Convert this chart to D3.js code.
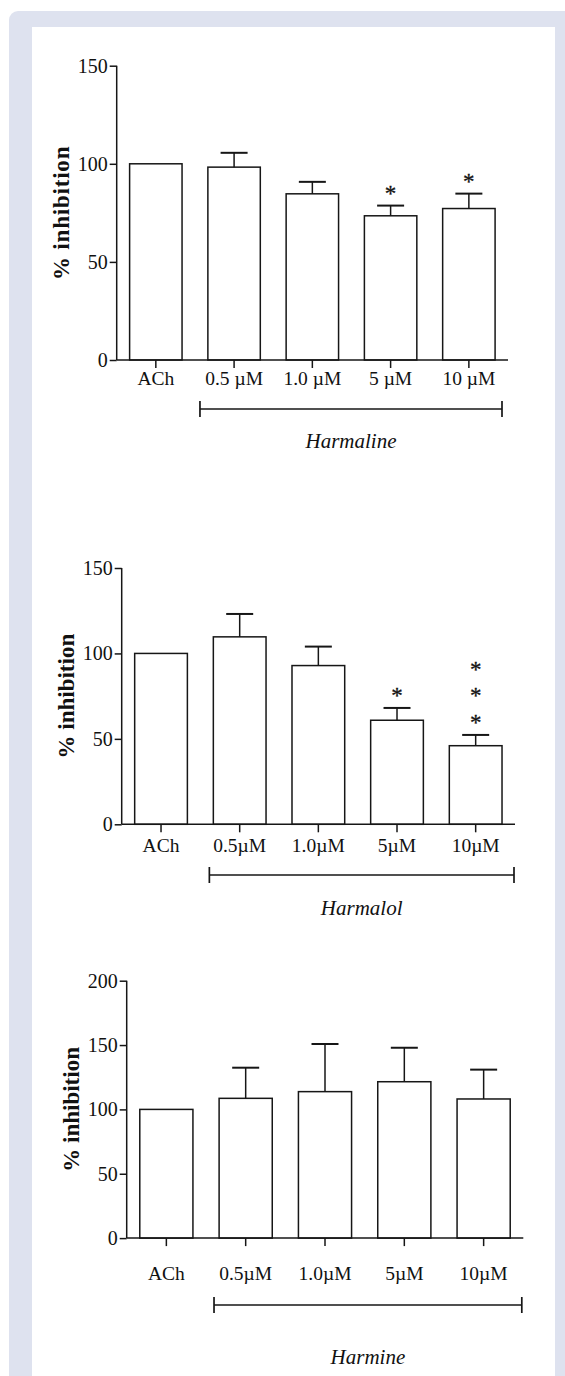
<!DOCTYPE html>
<html>
<head>
<meta charset="utf-8">
<script src="https://cdn.jsdelivr.net/npm/d3@7"></script>
<style>
  body { margin: 0; background: #fff; }
  svg text { font-family: "Liberation Serif", "Times New Roman", serif; fill: #111; }
</style>
</head>
<body>
<svg id="fig" width="565" height="1376"></svg>
<script>
// values
var labelsSpaced = ["ACh", "0.5 µM", "1.0 µM", "5 µM", "10 µM"];
var labelsTight = ["ACh", "0.5µM", "1.0µM", "5µM", "10µM"];

var harmalineMean = [100, 98.3, 84.7, 73.5, 77.2];
var harmalineErr = [0, 7.3, 6.1, 5.2, 7.6];
var harmalineStars = [0, 0, 0, 1, 1];

var harmalolMean = [100, 109.7, 92.9, 60.9, 46.0];
var harmalolErr = [0, 13.4, 11.1, 7.2, 6.3];
var harmalolStars = [0, 0, 0, 1, 3];

var harmineMean = [100, 108.6, 113.8, 121.5, 108.1];
var harmineErr = [0, 23.8, 37.0, 26.4, 22.8];
var harmineStars = [0, 0, 0, 0, 0];

var ticks150 = [0, 50, 100, 150];
var ticks200 = [0, 50, 100, 150, 200];

var yTitle = "% inhibition";

var svg = d3.select("#fig");

// page background: grey-blue frame with white sheet
svg.append("rect").attr("x", 9).attr("y", 11).attr("width", 600).attr("height", 1400)
  .attr("rx", 9).attr("fill", "#dee2ef");
svg.append("rect").attr("x", 32).attr("y", 27).attr("width", 523).attr("height", 1400)
  .attr("fill", "#fff");

var panels = [
  { cats: labelsSpaced, mean: harmalineMean, err: harmalineErr, stars: harmalineStars,
    ticks: ticks150, group: "Harmaline",
    left: 116.7, right: 508, top: 65.7, bottom: 360,
    labelY: 385, bracketY: 409, bracketL: 5, bracketR: 6, groupY: 448, titleSpacing: 0.8 },
  { cats: labelsTight, mean: harmalolMean, err: harmalolErr, stars: harmalolStars,
    ticks: ticks150, group: "Harmalol",
    left: 121.7, right: 515, top: 568, bottom: 824.3,
    labelY: 852, bracketY: 875, bracketL: 9, bracketR: 1, groupY: 915, titleSpacing: 0 },
  { cats: labelsTight, mean: harmineMean, err: harmineErr, stars: harmineStars,
    ticks: ticks200, group: "Harmine",
    left: 126.7, right: 523.3, top: 980.7, bottom: 1238.1,
    labelY: 1280, bracketY: 1305, bracketL: 8, bracketR: 1.5, groupY: 1364, titleSpacing: 0 }
];

panels.forEach(drawPanel);

function drawPanel(p) {
  var ink = "#161616";
  var g = svg.append("g");

  var x = d3.scaleBand()
    .domain(p.cats)
    .range([p.left, p.right])
    .paddingInner(0.33)
    .paddingOuter(0.165);

  var y = d3.scaleLinear()
    .domain([0, d3.max(p.ticks)])
    .range([p.bottom, p.top]);

  var rows = p.cats.map(function(c, i) {
    return { cat: c, mean: p.mean[i], err: p.err[i], stars: p.stars[i] };
  });

  // bars
  g.selectAll(".bar")
    .data(rows)
    .enter()
    .append("rect")
    .attr("x", function(d) { return x(d.cat); })
    .attr("y", function(d) { return y(d.mean); })
    .attr("width", x.bandwidth())
    .attr("height", function(d) { return y(0) - y(d.mean); })
    .attr("fill", "#fff")
    .attr("stroke", ink)
    .attr("stroke-width", 1.5);

  // error bars (upper only)
  var eb = g.selectAll(".err")
    .data(rows.filter(function(d) { return d.err > 0; }))
    .enter()
    .append("g");
  eb.append("line")
    .attr("x1", function(d) { return x(d.cat) + x.bandwidth() / 2; })
    .attr("x2", function(d) { return x(d.cat) + x.bandwidth() / 2; })
    .attr("y1", function(d) { return y(d.mean); })
    .attr("y2", function(d) { return y(d.mean + d.err); })
    .attr("stroke", ink).attr("stroke-width", 1.5);
  eb.append("line")
    .attr("x1", function(d) { return x(d.cat) + x.bandwidth() / 2 - 13.5; })
    .attr("x2", function(d) { return x(d.cat) + x.bandwidth() / 2 + 13.5; })
    .attr("y1", function(d) { return y(d.mean + d.err); })
    .attr("y2", function(d) { return y(d.mean + d.err); })
    .attr("stroke", ink).attr("stroke-width", 2);

  // significance stars
  rows.forEach(function(d) {
    for (var k = 0; k < d.stars; k++) {
      g.append("text")
        .attr("x", x(d.cat) + x.bandwidth() / 2)
        .attr("y", y(d.mean + d.err) - 15 - k * 26.7 + 10.2)
        .attr("text-anchor", "middle")
        .style("font-size", "23px")
        .style("stroke", "#111")
        .style("stroke-width", "0.3px")
        .text("*");
    }
  });

  // y axis
  var yAxis = g.append("g")
    .attr("transform", "translate(" + p.left + ",0)")
    .call(d3.axisLeft(y).tickValues(p.ticks).tickSize(7).tickPadding(2).tickFormat(d3.format("d")));
  yAxis.select(".domain").attr("d", "M0," + p.top + "V" + p.bottom).attr("stroke", ink).attr("stroke-width", 1.5);
  yAxis.selectAll(".tick line").attr("stroke", ink).attr("stroke-width", 1.5);
  yAxis.selectAll(".tick text").style("font-size", "20px").style("font-family", "Liberation Serif").attr("fill", "#111");

  // x axis
  var xAxis = g.append("g")
    .attr("transform", "translate(0," + p.bottom + ")")
    .call(d3.axisBottom(x).tickSize(8).tickFormat(""));
  xAxis.select(".domain").attr("d", "M" + p.left + ",0H" + p.right).attr("stroke", ink).attr("stroke-width", 1.5);
  xAxis.selectAll(".tick line").attr("stroke", ink).attr("stroke-width", 1.5);

  g.selectAll(".xlab")
    .data(p.cats)
    .enter()
    .append("text")
    .attr("x", function(c) { return x(c) + x.bandwidth() / 2; })
    .attr("y", p.labelY)
    .attr("text-anchor", "middle")
    .style("font-size", "19.5px")
    .text(function(c) { return c; });

  // y title
  g.append("text")
    .attr("transform", "translate(" + (p.left - 48) + "," + ((p.top + p.bottom) / 2) + ") rotate(-90)")
    .attr("text-anchor", "middle")
    .style("font-size", "23px")
    .style("font-weight", "bold")
    .style("letter-spacing", p.titleSpacing + "px")
    .text(yTitle);

  // bracket under the treated groups
  var bx1 = x(p.cats[1]) - x.step() * x.paddingInner() / 2 + p.bracketL;
  var bx2 = p.right - p.bracketR;
  g.append("line").attr("x1", bx1).attr("x2", bx2).attr("y1", p.bracketY).attr("y2", p.bracketY)
    .attr("stroke", ink).attr("stroke-width", 1.5);
  [bx1, bx2].forEach(function(bx) {
    g.append("line").attr("x1", bx).attr("x2", bx).attr("y1", p.bracketY - 8).attr("y2", p.bracketY + 8)
      .attr("stroke", ink).attr("stroke-width", 1.7);
  });

  g.append("text")
    .attr("x", (bx1 + bx2) / 2)
    .attr("y", p.groupY)
    .attr("text-anchor", "middle")
    .style("font-size", "21px")
    .style("font-style", "italic")
    .text(p.group);
}
</script>
</body>
</html>
